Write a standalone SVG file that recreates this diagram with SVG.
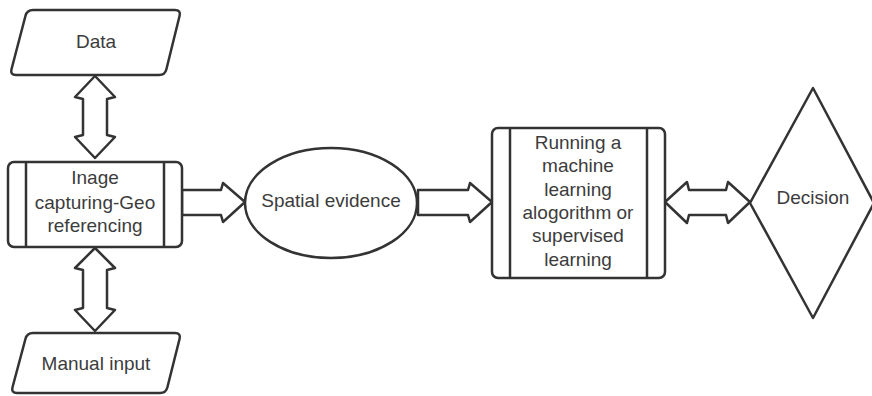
<svg xmlns="http://www.w3.org/2000/svg" width="872" height="396" viewBox="0 0 872 396">
  <style>
    .shape { fill: #ffffff; stroke: #333333; stroke-width: 2.5; stroke-linejoin: round; }
    .line { fill: none; stroke: #333333; stroke-width: 2.5; }
    .label { font-family: "Liberation Sans", Arial, sans-serif; font-size: 19px; fill: #3c3c3c; text-anchor: middle; }
  </style>
  <rect width="872" height="396" fill="#ffffff"/>

  <!-- block arrows -->
  <g id="connectors">
    <!-- Data <-> Image capturing -->
    <path class="shape" d="M95,76 L115,97 L107,99 L107,135 L115,137 L95,158 L75,137 L83,135 L83,99 L75,97 Z"/>
    <!-- Image capturing <-> Manual input -->
    <path class="shape" d="M95,248 L115,268 L107,270 L107,308 L115,310 L95,331 L75,310 L83,308 L83,270 L75,268 Z"/>
    <!-- Image capturing -> Spatial evidence -->
    <path class="shape" d="M182,190 L221,190 L223,183 L245,202 L223,222 L221,215 L182,215 Z"/>
    <!-- Spatial evidence -> Running ML -->
    <path class="shape" d="M418,190 L468,190 L470,183 L492,202 L470,222 L468,215 L418,215 Z"/>
    <!-- Running ML <-> Decision -->
    <path class="shape" d="M665,202 L687,182 L689,190 L726,190 L728,182 L750,202 L728,223 L726,215 L689,215 L687,223 Z"/>
  </g>

  <g id="data">
    <path class="shape" d="M33,10 H175 Q181,10 179.6,15.8 L166.4,69.2 Q165,75 159,75 H16 Q10,75 11.5,69.2 L25.5,15.8 Q27,10 33,10 Z"/>
    <text class="label" x="96" y="48">Data</text>
  </g>

  <g id="image-capturing">
    <rect class="shape" x="8" y="162" width="174" height="85" rx="6"/>
    <line class="line" x1="26" y1="162" x2="26" y2="247"/>
    <line class="line" x1="164" y1="162" x2="164" y2="247"/>
    <text class="label" x="95" y="184">Inage</text>
    <text class="label" x="95" y="209">capturing-Geo</text>
    <text class="label" x="95" y="232">referencing</text>
  </g>

  <g id="manual-input">
    <path class="shape" d="M33,333 H175 Q181,333 179.6,338.8 L167.4,387.2 Q166,393 160,393 H17 Q11,393 12.5,387.2 L25.5,338.8 Q27,333 33,333 Z"/>
    <text class="label" x="96" y="370">Manual input</text>
  </g>

  <g id="spatial-evidence">
    <ellipse class="shape" cx="331" cy="203" rx="86" ry="55"/>
    <text class="label" x="331" y="207">Spatial evidence</text>
  </g>

  <g id="running-ml">
    <rect class="shape" x="492" y="128" width="173" height="150" rx="6"/>
    <line class="line" x1="510" y1="128" x2="510" y2="278"/>
    <line class="line" x1="647" y1="128" x2="647" y2="278"/>
    <text class="label" x="578" y="149">Running a</text>
    <text class="label" x="578" y="172">machine</text>
    <text class="label" x="578" y="196">learning</text>
    <text class="label" x="578" y="219">alogorithm or</text>
    <text class="label" x="578" y="242">supervised</text>
    <text class="label" x="578" y="266">learning</text>
  </g>

  <g id="decision">
    <path class="shape" d="M813,88 L874,203 L813,318 L750,203 Z"/>
    <text class="label" x="813" y="204">Decision</text>
  </g>
</svg>
